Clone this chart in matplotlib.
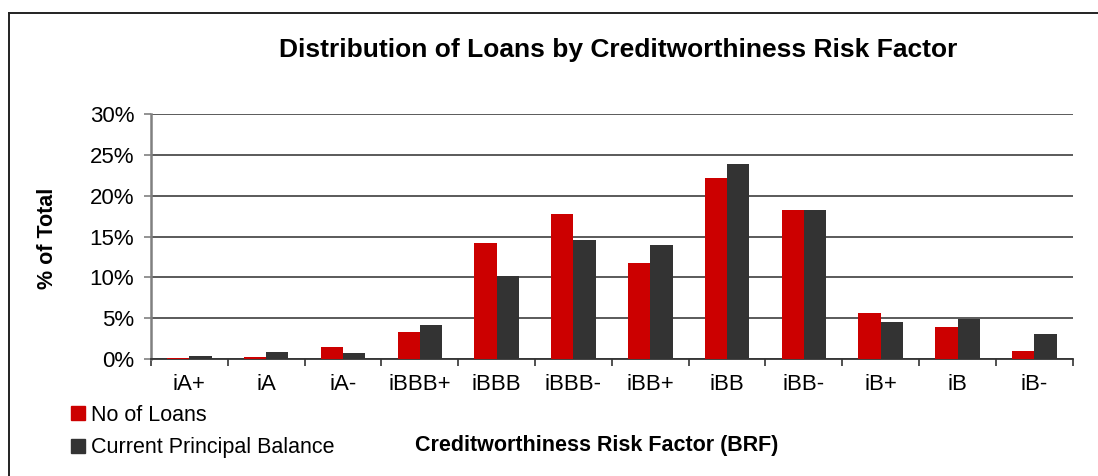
import matplotlib.pyplot as plt
import numpy as np
from matplotlib.lines import Line2D

# values (% of total)
categories = ["iA+", "iA", "iA-", "iBBB+", "iBBB", "iBBB-", "iBB+", "iBB", "iBB-", "iB+", "iB", "iB-"]
no_of_loans = [0.08, 0.3, 1.5, 3.35, 14.2, 17.8, 11.7, 22.2, 18.25, 5.65, 3.95, 1.0]
principal_balance = [0.4, 0.9, 0.75, 4.2, 10.2, 14.6, 14.0, 23.9, 18.25, 4.55, 4.95, 3.1]

red = "#CC0000"
dark = "#333333"
plt.rcParams["font.family"] = ["Liberation Sans", "DejaVu Sans"]

fig = plt.figure(figsize=(10.98, 4.76), dpi=100)
ax = fig.add_axes([0.1375, 0.2458, 0.8395, 0.5147])

x = np.arange(len(categories))
w = 0.29
ax.bar(x - w / 2, no_of_loans, w, color=red, zorder=3)
ax.bar(x + w / 2, principal_balance, w, color=dark, zorder=3)

ax.set_xlim(-0.5, len(categories) - 0.5)
ax.set_ylim(0, 30)
ax.set_yticks(range(0, 31, 5))
ax.set_yticklabels([f"{v}%" for v in range(0, 31, 5)], fontsize=16)
ax.yaxis.grid(True, color="#4d4d4d", linewidth=1.3, zorder=0)

# category labels sit between the boundary ticks
ax.set_xticks(np.arange(-0.5, len(categories), 1.0))
ax.set_xticklabels([])
ax.set_xticks(x, minor=True)
ax.set_xticklabels(categories, minor=True, fontsize=16)
ax.tick_params(axis="x", which="major", length=5, width=1.2, color="#333333", direction="out")
ax.tick_params(axis="x", which="minor", length=0, pad=11)
ax.tick_params(axis="y", length=5, width=1.2, color="#808080", pad=7)

for s in ["top", "right"]:
    ax.spines[s].set_visible(False)
ax.spines["left"].set_color("#808080")
ax.spines["left"].set_linewidth(1.8)
ax.spines["bottom"].set_color("#333333")
ax.spines["bottom"].set_linewidth(1.3)

fig.text(0.563, 0.895, "Distribution of Loans by Creditworthiness Risk Factor",
         ha="center", va="center", fontsize=19, fontweight="bold")
fig.text(0.043, 0.50, "% of Total", rotation=90, ha="center", va="center",
         fontsize=15.5, fontweight="bold")
fig.text(0.5435, 0.065, "Creditworthiness Risk Factor (BRF)", ha="center", va="center",
         fontsize=15.5, fontweight="bold")

handles = [
    Line2D([], [], marker="s", linestyle="none", markersize=10.5, color=red),
    Line2D([], [], marker="s", linestyle="none", markersize=10.5, color=dark),
]
fig.legend(handles, ["No of Loans", "Current Principal Balance"], loc="upper left",
           bbox_to_anchor=(0.055, 0.168), frameon=False, fontsize=15.5,
           handlelength=0.8, handletextpad=0.2, labelspacing=0.55, borderaxespad=0)

# outer chart border (top and left only visible in the crop)
fig.add_artist(Line2D([9 / 1098, 9 / 1098], [0, 1 - 13 / 476], color="#222222", linewidth=1.4))
fig.add_artist(Line2D([9 / 1098, 1], [1 - 13 / 476, 1 - 13 / 476], color="#222222", linewidth=1.4))

fig.savefig("out.png", dpi=100)
